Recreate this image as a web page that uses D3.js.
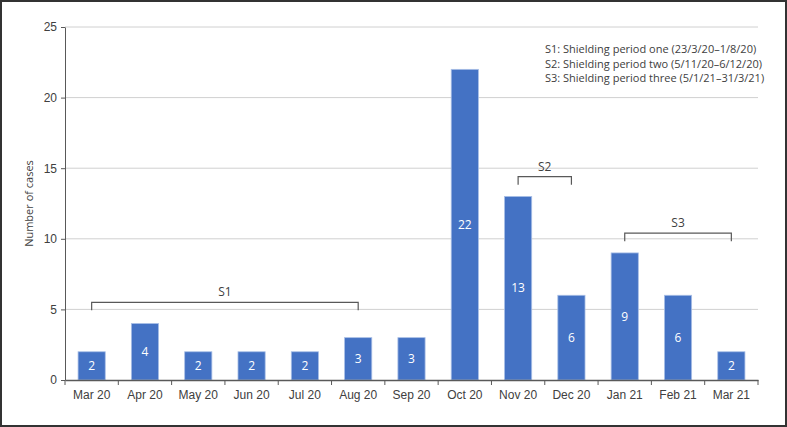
<!DOCTYPE html>
<html>
<head>
<meta charset="utf-8">
<script src="https://cdn.jsdelivr.net/npm/d3@7"></script>
<style>
body { margin: 0; background: #fff; }
svg { display: block; font-family: "Open Sans", "Noto Sans", sans-serif; }
</style>
</head>
<body>
<svg width="787" height="427"></svg>
<script>
var months = ["Mar 20", "Apr 20", "May 20", "Jun 20", "Jul 20", "Aug 20", "Sep 20",
	"Oct 20", "Nov 20", "Dec 20", "Jan 21", "Feb 21", "Mar 21"];
var cases = [2, 4, 2, 2, 2, 3, 3, 22, 13, 6, 9, 6, 2];
var yTicks = [0, 5, 10, 15, 20, 25];
var periodNames = ["S1", "S2", "S3"];
var periodStart = ["Mar 20", "Nov 20", "Jan 21"];
var periodEnd = ["Aug 20", "Dec 20", "Mar 21"];
var periodLevel = [5.5, 14.4, 10.4];
var legendLines = [
	"S1: Shielding period one (23/3/20\u20131/8/20)",
	"S2: Shielding period two (5/11/20\u20136/12/20)",
	"S3: Shielding period three (5/1/21\u201331/3/21)"
];

var svg = d3.select("svg");
var margin = {top: 27, left: 65, right: 29, bottom: 47};
var W = 787, H = 427;
var w = W - margin.left - margin.right,
	h = H - margin.top - margin.bottom;

svg.append("rect").attr("x", 1).attr("y", 1).attr("width", W - 2).attr("height", H - 2)
	.style("fill", "none").style("stroke", "#333").style("stroke-width", 2);

var g = svg.append("g").attr("transform", "translate(" + margin.left + "," + margin.top + ")");

var x = d3.scaleBand().domain(months).range([0, w]).paddingInner(0.49).paddingOuter(0.245);
var xb = d3.scaleBand().domain(months).range([0, w]);
var y = d3.scaleLinear().domain([0, 25]).range([h, 0]);

// gridlines
g.selectAll(".grid").data(yTicks.slice(1)).enter().append("line")
	.attr("x1", 0).attr("x2", w)
	.attr("y1", d => y(d)).attr("y2", d => y(d))
	.style("stroke", "#d0d0d0").style("stroke-width", 1);

// bars
g.selectAll(".bar").data(cases).enter().append("rect")
	.attr("x", (d, i) => x(months[i]))
	.attr("y", d => y(d))
	.attr("width", x.bandwidth())
	.attr("height", d => h - y(d))
	.style("fill", "#4472c4")
	.style("stroke", "#a9bfe6")
	.style("stroke-width", 0.8);

g.selectAll(".lab").data(cases).enter().append("text")
	.attr("x", (d, i) => x(months[i]) + x.bandwidth() / 2)
	.attr("y", d => y(d / 2))
	.attr("dy", "0.35em")
	.attr("text-anchor", "middle")
	.style("fill", "#fff").style("font-size", "12px")
	.text(d => d);

// axes
var yAxis = g.append("g").call(d3.axisLeft(y).tickValues(yTicks).tickSize(4).tickSizeOuter(0));
yAxis.select(".domain").style("stroke", "#595959");
yAxis.selectAll(".tick line").style("stroke", "#595959");
yAxis.selectAll("text").style("font-size", "12px").style("fill", "#404040").attr("x", -8);

var xAxis = g.append("g").attr("transform", "translate(0," + h + ")")
	.call(d3.axisBottom(xb).tickSize(0).tickSizeOuter(0));
xAxis.select(".domain").style("stroke", "#595959").style("stroke-width", 1.5);
xAxis.selectAll("text").style("font-size", "12px").style("fill", "#404040").attr("y", 10);
g.selectAll(".xt").data(months.concat([null])).enter().append("line")
	.attr("x1", (d, i) => i * xb.step()).attr("x2", (d, i) => i * xb.step())
	.attr("y1", h).attr("y2", h + 5)
	.style("stroke", "#595959");

// brackets
var cx = m => x(m) + x.bandwidth() / 2;
periodNames.forEach(function(name, i) {
	var x1 = cx(periodStart[i]), x2 = cx(periodEnd[i]), yy = y(periodLevel[i]);
	g.append("path")
		.attr("d", "M" + x1 + "," + (yy + 8) + "V" + yy + "H" + x2 + "V" + (yy + 8))
		.style("fill", "none").style("stroke", "#595959").style("stroke-width", 1.2);
	g.append("text")
		.attr("x", (x1 + x2) / 2).attr("y", yy - 6)
		.attr("text-anchor", "middle")
		.style("font-size", "12px").style("fill", "#404040")
		.text(name);
});

// legend text
svg.selectAll(".leg").data(legendLines).enter().append("text")
	.attr("x", 545).attr("y", (d, i) => 53 + i * 14.5)
	.style("font-size", "11px").style("fill", "#404040")
	.text(d => d);

// y title
svg.append("text")
	.attr("transform", "translate(33," + (margin.top + h / 2) + ") rotate(-90)")
	.attr("text-anchor", "middle")
	.style("font-size", "11px").style("fill", "#404040")
	.text("Number of cases");
</script>
</body>
</html>
